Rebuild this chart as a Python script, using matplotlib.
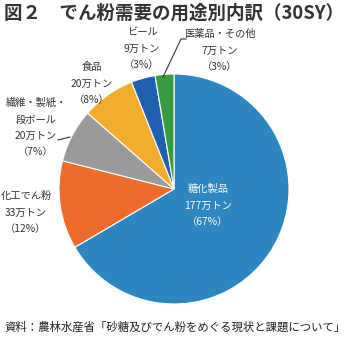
import numpy as np
import matplotlib
matplotlib.use("Agg")
import matplotlib.pyplot as plt

plt.rcParams['font.family'] = ['Noto Sans CJK JP', 'DejaVu Sans']

# データ（万トン）
labels = ['糖化製品', '化工でん粉', '繊維・製紙・\n段ボール', '食品', 'ビール', '医薬品・その他']
values = [177, 33, 20, 20, 9, 7]
pct = ['67%', '12%', '7%', '8%', '3%', '3%']
colors = ['#2e86c1', '#ec6c2d', '#9a9a9a', '#f0ad2c', '#1e5fae', '#3a9a42']

W, H = 354, 338
fig = plt.figure(figsize=(W / 100, H / 100), dpi=100)

def fx(px):
    return px / W

def fy(py):
    return 1 - py / H

cx, cy, r = 174, 189, 115
ax = fig.add_axes([fx(cx - r), fy(cy + r), 2 * r / W, 2 * r / H])
wedges, _ = ax.pie(values, colors=colors, startangle=90, counterclock=False,
                   wedgeprops=dict(edgecolor='white', linewidth=0.8))
ax.set_xlim(-1, 1)
ax.set_ylim(-1, 1)
ax.set_aspect('auto')
ax.axis('off')

txt = '#333333'
fs = 7.4

def block(x, y, lines, color=txt):
    for i, s in enumerate(lines):
        fig.text(fx(x), fy(y + i * 16.5), s, color=color, fontsize=fs, ha='center', va='center')

# ラベル
block(208, 189, [labels[0], f'{values[0]}万トン', f'（{pct[0]}）'], color='white')
block(26, 196, [labels[1], f'{values[1]}万トン', f'（{pct[1]}）'])
block(36, 103, ['繊維・製紙・', '段ボール', f'{values[2]}万トン', f'（{pct[2]}）'])
block(92, 67, [labels[3], f'{values[3]}万トン', f'（{pct[3]}）'])
block(142, 32, [labels[4], f'{values[4]}万トン', f'（{pct[4]}）'])
block(220, 34, [labels[5], f'{values[5]}万トン', f'（{pct[5]}）'])

# 引き出し線
fig.add_artist(plt.Line2D([fx(163), fx(181), fx(186)], [fy(77), fy(39), fy(39)],
                          color='#333333', linewidth=0.8))
fig.add_artist(plt.Line2D([fx(58), fx(66), fx(70)], [fy(140), fy(138), fy(137)],
                          color='#333333', linewidth=0.8))

fig.text(fx(4), fy(13), '図２　でん粉需要の用途別内訳（30SY）', fontsize=13.3,
         fontweight='bold', color='#333333', ha='left', va='center')
fig.text(fx(4), fy(327), '資料：農林水産省「砂糖及びでん粉をめぐる現状と課題について」',
         fontsize=8.2, color='#222222', ha='left', va='center')

fig.savefig('out.png', dpi=100, facecolor='white')
